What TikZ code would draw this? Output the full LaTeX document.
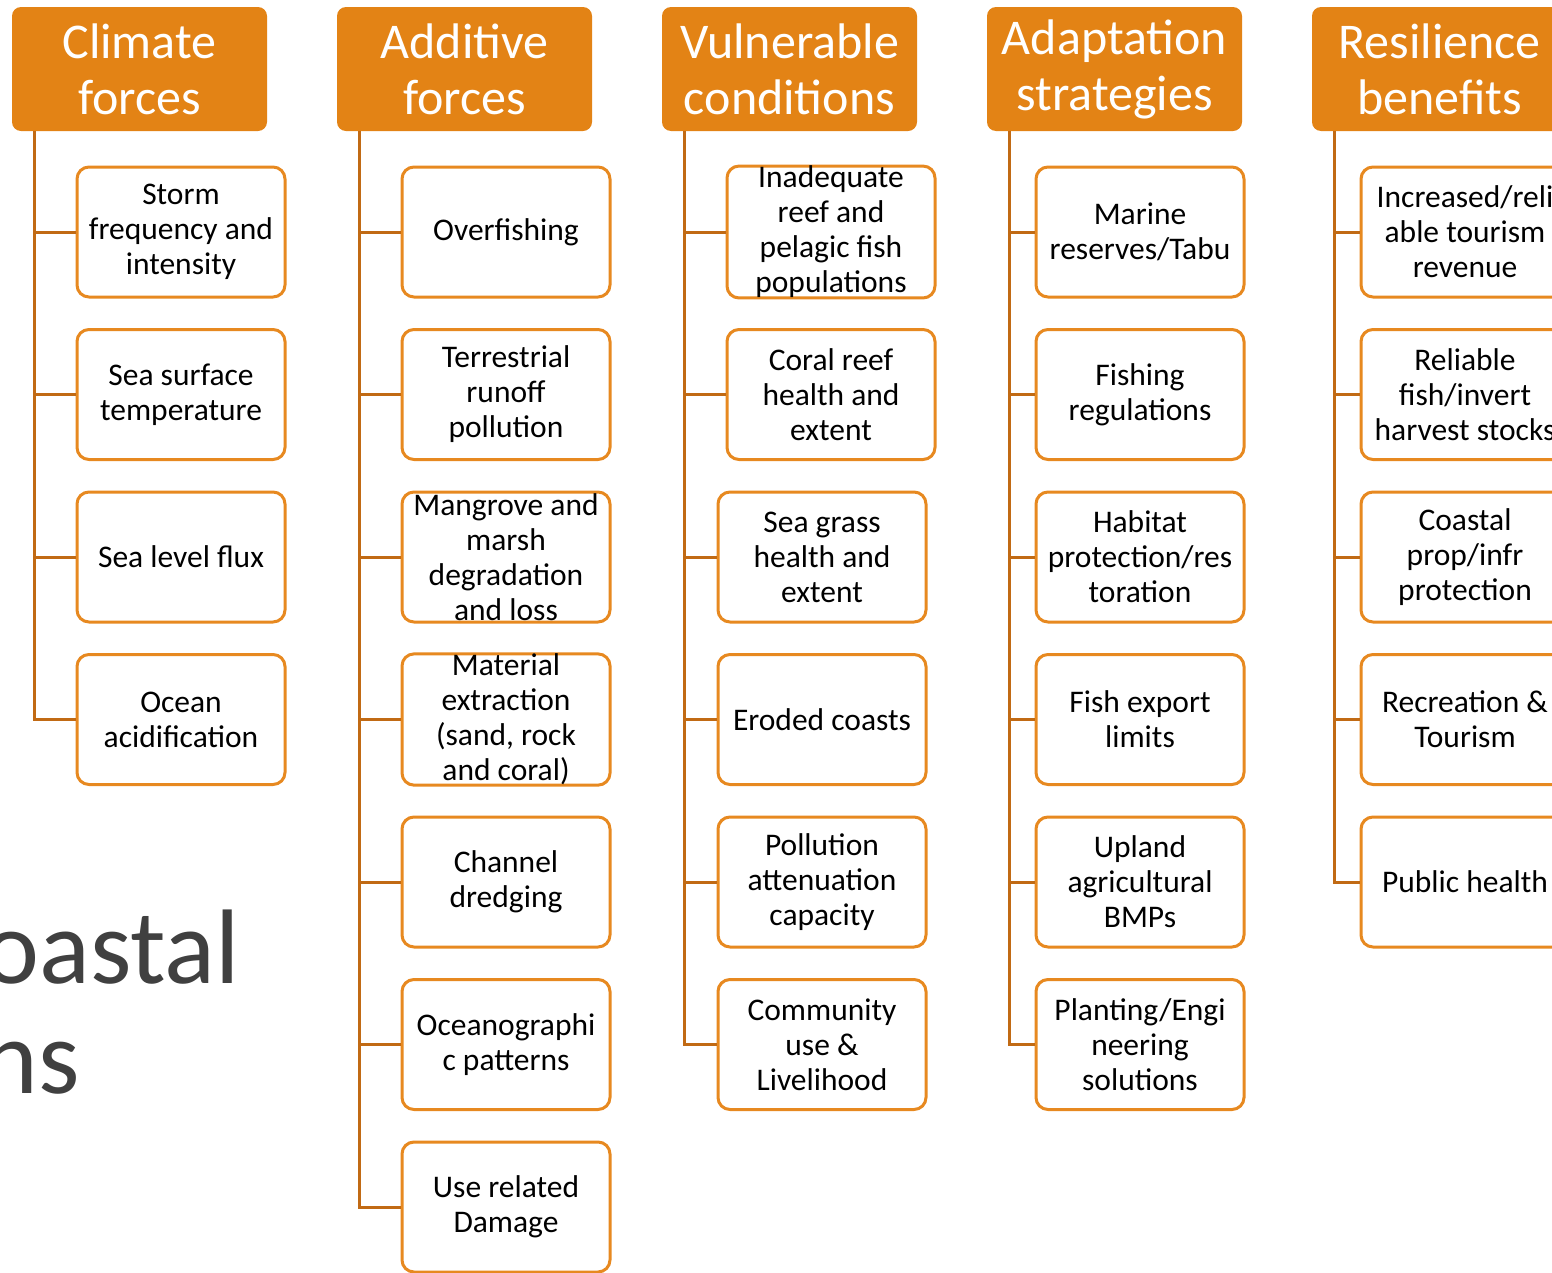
\documentclass[tikz,border=0pt]{standalone}
\usepackage{fontspec}
\setmainfont{Carlito}
\definecolor{headfill}{RGB}{227,131,21}
\definecolor{boxline}{RGB}{231,137,32}
\definecolor{spine}{RGB}{193,106,20}
\definecolor{slidegray}{RGB}{64,64,64}

\begin{document}
\begin{tikzpicture}[x=1pt, y=-1pt, node distance=162.5pt,
    head/.style = {fill=headfill, rounded corners=9, minimum width=255, minimum height=124, inner sep=2, text=white, align=center, font=\fontsize{50}{56}\selectfont},
    box/.style = {draw=boxline, line width=3, rounded corners=12, fill=white, minimum width=208, minimum height=130, inner xsep=2, inner ysep=0, align=center, font=\fontsize{31.5}{35}\selectfont},
    conn/.style = {draw=spine, line width=3},
    slide/.style = {anchor=base east, inner sep=0, text=slidegray, font=\fontsize{106}{110}\selectfont}]
                    \useasboundingbox (0,0) rectangle (1552,1272);
                    % leftover slide title
                    \node[slide] (t1) at (240,983) {oastal};
                    \node[slide] (t2) at (80,1093) {ns};
                    % headers
                    \node[head] (h1) at (139.5,69) {Climate\\forces};
                    \node[head] (h2) [right of=h1, node distance=325pt] {Additive\\forces};
                    \node[head] (h3) [right of=h2, node distance=325pt] {Vulnerable\\conditions};
                    \node[head] (h4) [right of=h3, node distance=325pt] {Adaptation\\strategies};
                    \node[head] (h5) [right of=h4, node distance=325pt] {Resilience\\benefits};
                    \coordinate (s1) at ([xshift=23pt]h1.south west);
                    \coordinate (s2) at ([xshift=23pt]h2.south west);
                    \coordinate (s3) at ([xshift=23pt]h3.south west);
                    \coordinate (s4) at ([xshift=23pt]h4.south west);
                    \coordinate (s5) at ([xshift=23pt]h5.south west);
                    % climate forces
                    \node[box] (c1a) at (181,232) {Storm\\frequency and\\intensity};
                    \node[box] (c1b) [below of=c1a] {Sea surface\\temperature};
                    \node[box] (c1c) [below of=c1b] {Sea level flux};
                    \node[box] (c1d) [below of=c1c] {Ocean\\acidification};
                    % additive forces
                    \node[box] (c2a) at (506,232) {Overfishing};
                    \node[box] (c2b) [below of=c2a] {Terrestrial\\runoff\\pollution};
                    \node[box] (c2c) [below of=c2b] {Mangrove and\\marsh\\degradation\\and loss};
                    \node[box] (c2d) [below of=c2c] {Material\\extraction\\(sand, rock\\and coral)};
                    \node[box] (c2e) [below of=c2d] {Channel\\dredging};
                    \node[box] (c2f) [below of=c2e] {Oceanographi\\c patterns};
                    \node[box] (c2g) [below of=c2f] {Use related\\Damage};
                    % vulnerable conditions
                    \node[box] (c3a) at (831,232) {Inadequate\\reef and\\pelagic fish\\populations};
                    \node[box] (c3b) [below of=c3a] {Coral reef\\health and\\extent};
                    \node[box] (c3c) [below of=c3b, xshift=-9pt] {Sea grass\\health and\\extent};
                    \node[box] (c3d) [below of=c3c] {Eroded coasts};
                    \node[box] (c3e) [below of=c3d] {Pollution\\attenuation\\capacity};
                    \node[box] (c3f) [below of=c3e] {Community\\use \&\\Livelihood};
                    % adaptation strategies
                    \node[box] (c4a) at (1140,232) {Marine\\reserves/Tabu};
                    \node[box] (c4b) [below of=c4a] {Fishing\\regulations};
                    \node[box] (c4c) [below of=c4b] {Habitat\\protection/res\\toration};
                    \node[box] (c4d) [below of=c4c] {Fish export\\limits};
                    \node[box] (c4e) [below of=c4d] {Upland\\agricultural\\BMPs};
                    \node[box] (c4f) [below of=c4e] {Planting/Engi\\neering\\solutions};
                    % resilience benefits
                    \node[box] (c5a) at (1465,232) {Increased/reli\\able tourism\\revenue};
                    \node[box] (c5b) [below of=c5a] {Reliable\\fish/invert\\harvest stocks};
                    \node[box] (c5c) [below of=c5b] {Coastal\\prop/infr\\protection};
                    \node[box] (c5d) [below of=c5c] {Recreation \&\\Tourism};
                    \node[box] (c5e) [below of=c5d] {Public health};
                    % connectors
                    \draw[conn] (s1) |- (c1a.west);
                    \draw[conn] (s1) |- (c1b.west);
                    \draw[conn] (s1) |- (c1c.west);
                    \draw[conn] (s1) |- (c1d.west);
                    \draw[conn] (s2) |- (c2a.west);
                    \draw[conn] (s2) |- (c2b.west);
                    \draw[conn] (s2) |- (c2c.west);
                    \draw[conn] (s2) |- (c2d.west);
                    \draw[conn] (s2) |- (c2e.west);
                    \draw[conn] (s2) |- (c2f.west);
                    \draw[conn] (s2) |- (c2g.west);
                    \draw[conn] (s3) |- (c3a.west);
                    \draw[conn] (s3) |- (c3b.west);
                    \draw[conn] (s3) |- (c3c.west);
                    \draw[conn] (s3) |- (c3d.west);
                    \draw[conn] (s3) |- (c3e.west);
                    \draw[conn] (s3) |- (c3f.west);
                    \draw[conn] (s4) |- (c4a.west);
                    \draw[conn] (s4) |- (c4b.west);
                    \draw[conn] (s4) |- (c4c.west);
                    \draw[conn] (s4) |- (c4d.west);
                    \draw[conn] (s4) |- (c4e.west);
                    \draw[conn] (s4) |- (c4f.west);
                    \draw[conn] (s5) |- (c5a.west);
                    \draw[conn] (s5) |- (c5b.west);
                    \draw[conn] (s5) |- (c5c.west);
                    \draw[conn] (s5) |- (c5d.west);
                    \draw[conn] (s5) |- (c5e.west);
                \end{tikzpicture}
\end{document}
